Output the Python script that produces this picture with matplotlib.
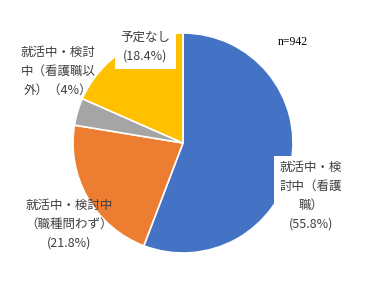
import matplotlib
matplotlib.use("Agg")
import matplotlib.pyplot as plt

plt.rcParams['font.family'] = ['Noto Sans CJK JP', 'DejaVu Sans']

# data (clockwise from top)
labels = ["就活中・検\n討中（看護\n職）\n(55.8%)",
          "就活中・検討中\n（職種問わず）\n(21.8%)",
          "就活中・検討\n中（看護職以\n外）（4%）",
          "予定なし\n(18.4%)"]
shares = [55.8, 21.8, 4.0, 18.4]
colors = ["#4472C4", "#ED7D31", "#A5A5A5", "#FFC000"]
# label centres in pixels of the 366x288 image
label_px = [(311, 196), (69, 224), (58, 71), (145, 47)]
label_box = [True, False, False, True]

W, H = 366, 288
cx, cy, r = 183, 143, 110

fig = plt.figure(figsize=(W / 100, H / 100), dpi=100)
ax = fig.add_axes([(cx - r) / W, (H - cy - r) / H, 2 * r / W, 2 * r / H])
ax.pie(shares, colors=colors, startangle=90, counterclock=False, radius=1,
       wedgeprops=dict(edgecolor="white", linewidth=1.2))
ax.set_xlim(-1, 1)
ax.set_ylim(-1, 1)
ax.set_aspect("equal")
ax.axis("off")

for lab, (px, py), box in zip(labels, label_px, label_box):
    x = (px - cx) / r
    y = (cy - py) / r
    bb = dict(facecolor="white", edgecolor="none", pad=4) if box else None
    ax.text(x, y, lab, ha="center", va="center", fontsize=9, color="#404040",
            linespacing=1.6, bbox=bb, clip_on=False)

ax.text((293 - cx) / r, (cy - 42) / r, "n=942", ha="center", va="center",
        fontsize=8.5, color="black", family="Liberation Serif", clip_on=False)

fig.savefig("out.png", dpi=100)
